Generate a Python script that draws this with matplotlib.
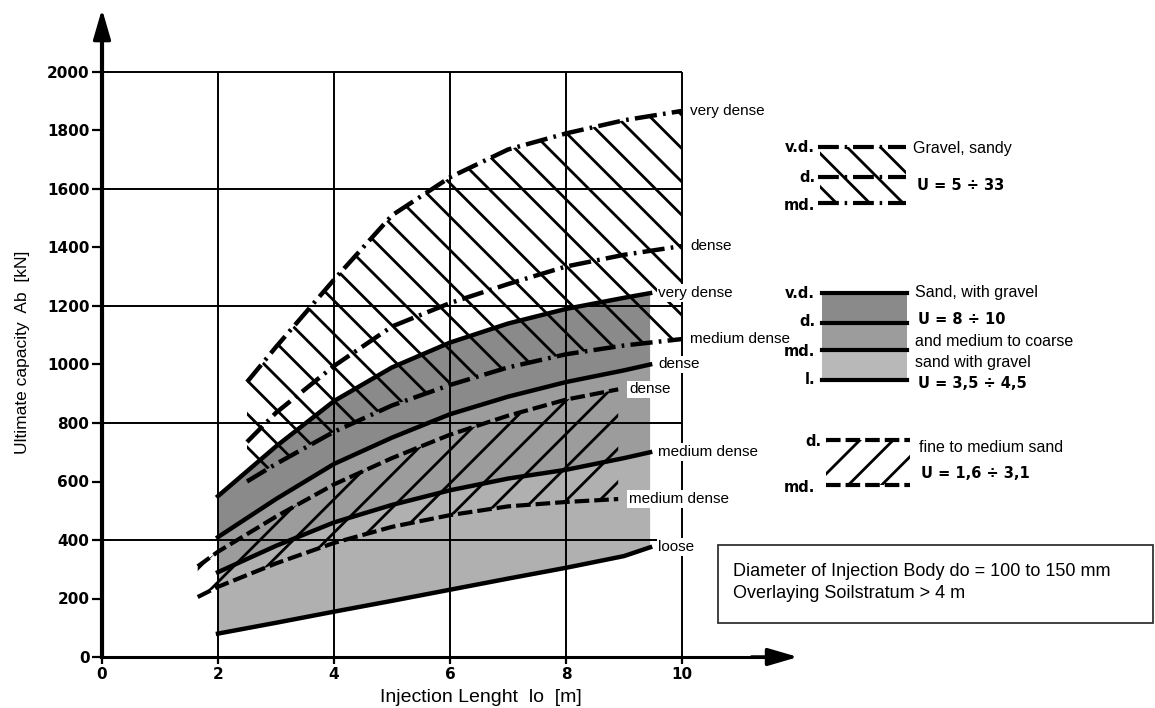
import numpy as np
import matplotlib
matplotlib.use('Agg')
import matplotlib.pyplot as plt
from matplotlib.patches import Rectangle

plt.rcParams['hatch.linewidth'] = 2.0
plt.rcParams['font.family'] = ['Liberation Sans', 'DejaVu Sans']

# ---------------- data ----------------
# Gravel, sandy (U = 5 ÷ 33)
gravel_x = [2.5, 3, 4, 5, 6, 7, 8, 9, 10]
gravel_vd = [940, 1060, 1290, 1510, 1640, 1735, 1790, 1835, 1867]
gravel_d = [735, 835, 995, 1130, 1210, 1275, 1335, 1375, 1405]
gravel_md = [600, 660, 770, 860, 930, 990, 1035, 1065, 1087]

# Sand with gravel (U = 8 ÷ 10) and medium to coarse sand with gravel
sand_x = [2, 3, 4, 5, 6, 7, 8, 9, 9.45]
sand_vd = [550, 720, 875, 990, 1075, 1140, 1190, 1228, 1244]
sand_d = [410, 540, 660, 750, 830, 890, 940, 980, 1000]
sand_md = [290, 380, 460, 520, 570, 610, 640, 680, 700]
sand_l = [80, 117, 155, 192, 230, 268, 305, 345, 375]

# Fine to medium sand (U = 1,6 ÷ 3,1)
fine_x = [1.65, 2, 3, 4, 5, 6, 7, 8, 8.9]
fine_d = [310, 360, 480, 590, 680, 760, 825, 880, 915]
fine_md = [205, 240, 320, 390, 445, 485, 515, 530, 540]

x_ticks = [0, 2, 4, 6, 8, 10]
y_ticks = [0, 200, 400, 600, 800, 1000, 1200, 1400, 1600, 1800, 2000]
grid_x = [2, 4, 6, 8, 10]
grid_y = [400, 800, 1200, 1600, 2000]

gravel_labels = ['very dense', 'dense', 'medium dense']
sand_labels = ['very dense', 'dense', 'medium dense', 'loose']
fine_labels = ['dense', 'medium dense']

# ---------------- layout ----------------
W, H, DPI = 1155, 708, 100
X0, Y0, SX, SY = 102, 657, 58.0, 0.2925   # pixel origin and scales

fig = plt.figure(figsize=(W / DPI, H / DPI), dpi=DPI)
fig.patch.set_facecolor('white')
ax = fig.add_axes([0, 0, 1, 1])
ax.set_xlim(-X0 / SX, (W - X0) / SX)
ax.set_ylim(-(H - Y0) / SY, Y0 / SY)
ax.set_facecolor('white')

X_END, Y_END = 12.0, 2215
for s in ['top', 'right']:
    ax.spines[s].set_visible(False)
ax.spines['left'].set_position(('data', 0))
ax.spines['bottom'].set_position(('data', 0))
ax.spines['left'].set_bounds(0, Y_END - 60)
ax.spines['bottom'].set_bounds(0, X_END - 0.3)
ax.spines['left'].set_linewidth(3)
ax.spines['bottom'].set_linewidth(2.2)
ax.spines['left'].set_zorder(6)
ax.spines['bottom'].set_zorder(6)

arrow_kw = dict(arrowstyle='-|>,head_length=1.3,head_width=0.38', color='k',
                lw=2.5, mutation_scale=14, shrinkA=0, shrinkB=0)
ax.annotate('', xy=(0, Y_END), xytext=(0, Y_END - 150), arrowprops=arrow_kw)
ax.annotate('', xy=(X_END, 0), xytext=(X_END - 0.8, 0), arrowprops=arrow_kw)

ax.set_xticks(x_ticks)
ax.set_xticklabels([str(v) for v in x_ticks], fontfamily='DejaVu Sans',
                   fontweight='bold', fontsize=11)
ax.set_yticks(y_ticks)
ax.set_yticklabels([str(v) for v in y_ticks], fontfamily='DejaVu Sans',
                   fontweight='bold', fontsize=11)
ax.tick_params(axis='x', direction='out', length=5, width=1.6, pad=2)
ax.tick_params(axis='y', direction='out', length=7, width=1.6, pad=2)

# grid
ax.hlines(grid_y, 0, grid_x[-1], colors='k', lw=1.4, zorder=2.5)
ax.vlines(grid_x, 0, grid_y[-1], colors='k', lw=1.4, zorder=2.5)

# ---------------- fills ----------------
ax.fill_between(sand_x, sand_d, sand_vd, facecolor='#8a8a8a', lw=0, zorder=2)
ax.fill_between(sand_x, sand_md, sand_d, facecolor='#9c9c9c', lw=0, zorder=2)
ax.fill_between(sand_x, sand_l, sand_md, facecolor='#b0b0b0', lw=0, zorder=2)
ax.fill_between(gravel_x, gravel_md, gravel_vd, facecolor='none', edgecolor='k',
                hatch='\\', lw=0, zorder=3)
ax.fill_between(fine_x, fine_md, fine_d, facecolor='none', edgecolor='k',
                hatch='/', lw=0, zorder=3)

# ---------------- curves ----------------
DASHDOT = (0, (5, 1.4, 0.6, 1.4))
DASHED = (0, (3.5, 1.2))
for ys in [gravel_vd, gravel_d, gravel_md]:
    ax.plot(gravel_x, ys, color='k', lw=3.2, ls=DASHDOT, zorder=5,
            solid_capstyle='butt')
for ys in [sand_vd, sand_d, sand_md, sand_l]:
    ax.plot(sand_x, ys, color='k', lw=3.2, zorder=5)
for ys in [fine_d, fine_md]:
    ax.plot(fine_x, ys, color='k', lw=3.0, ls=DASHED, zorder=5)

lab_bbox = dict(boxstyle='square,pad=0.12', fc='white', ec='none')
for xs, series, labels, off in [
        (gravel_x, [gravel_vd, gravel_d, gravel_md], gravel_labels, 6),
        (sand_x, [sand_vd, sand_d, sand_md, sand_l], sand_labels, 6),
        (fine_x, [fine_d, fine_md], fine_labels, 8)]:
    for ys, txt in zip(series, labels):
        ax.annotate(txt, xy=(xs[-1], ys[-1]), xytext=(off, 0),
                    textcoords='offset points', ha='left', va='center',
                    fontsize=11, bbox=lab_bbox, zorder=7)

# ---------------- pixel-layout overlay (titles, legend, note) ----------------
lax = fig.add_axes([0, 0, 1, 1])
lax.set_xlim(0, W)
lax.set_ylim(H, 0)
lax.axis('off')
lax.patch.set_visible(False)

lax.text(23, 352, 'Ultimate capacity  Ab  [kN]', rotation=90, ha='center',
         va='center', fontsize=12.5)
lax.text(481, 697, 'Injection Lenght  lo  [m]', ha='center', va='center',
         fontsize=14)

# gravel swatch
lax.fill_between([820, 906], [203, 203], [147, 147], facecolor='white',
                 edgecolor='k', hatch='\\', lw=0)
for yy in [147, 177, 203]:
    lax.plot([818, 906], [yy, yy], color='k', lw=3, ls=DASHDOT)
# sand swatch
lax.fill_between([822, 907], [323, 323], [293, 293], facecolor='#8a8a8a', lw=0)
lax.fill_between([822, 907], [350, 350], [323, 323], facecolor='#9c9c9c', lw=0)
lax.fill_between([822, 907], [380, 380], [350, 350], facecolor='#b8b8b8', lw=0)
for yy in [293, 323, 350, 380]:
    lax.plot([822, 907], [yy, yy], color='k', lw=3)
# fine swatch
lax.fill_between([826, 910], [485, 485], [440, 440], facecolor='white',
                 edgecolor='k', hatch='/', lw=0)
for yy in [440, 485]:
    lax.plot([826, 910], [yy, yy], color='k', lw=3, ls=DASHED)

bold = dict(fontfamily='DejaVu Sans', fontweight='bold', fontsize=10.5,
            ha='right', va='center')
for txt, yy in [('v.d.', 147), ('d.', 177), ('md.', 205),
                ('v.d.', 293), ('d.', 322), ('md.', 352), ('l.', 380),
                ('d.', 441), ('md.', 487)]:
    lax.text(815 if yy != 441 else 822, yy, txt, **bold)

reg = dict(fontsize=11.5, ha='left', va='center')
ubold = dict(fontfamily='DejaVu Sans', fontweight='bold', fontsize=10.5,
             ha='left', va='center')
lax.text(913, 148, 'Gravel, sandy', **reg)
lax.text(917, 186, 'U = 5 ÷ 33', **ubold)
lax.text(915, 293, 'Sand, with gravel', **reg)
lax.text(918, 319, 'U = 8 ÷ 10', **ubold)
lax.text(915, 342, 'and medium to coarse', **reg)
lax.text(915, 362, 'sand with gravel', **reg)
lax.text(918, 384, 'U = 3,5 ÷ 4,5', **ubold)
lax.text(919, 448, 'fine to medium sand', **reg)
lax.text(921, 474, 'U = 1,6 ÷ 3,1', **ubold)

# info box
lax.add_patch(Rectangle((718, 545), 435, 78, fill=False, ec='#333333', lw=1.3))
lax.text(733, 571, 'Diameter of Injection Body do = 100 to 150 mm',
         fontsize=13, ha='left', va='center')
lax.text(733, 594, 'Overlaying Soilstratum > 4 m', fontsize=13,
         ha='left', va='center')

fig.savefig('out.png', dpi=DPI)
